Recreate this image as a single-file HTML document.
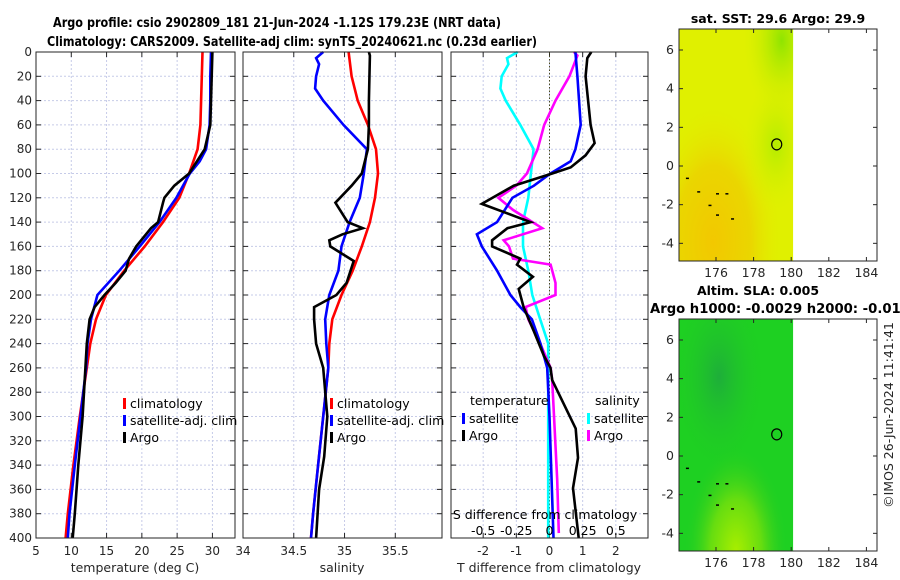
<!DOCTYPE html>
<html><head><meta charset="utf-8">
<style>
html,body{margin:0;padding:0;background:#fff;}
svg{display:block;font-family:"DejaVu Sans","Liberation Sans",sans-serif;}
</style></head>
<body>
<svg id="chart" width="900" height="580" viewBox="0 0 900 580" xmlns="http://www.w3.org/2000/svg">
<defs>
<radialGradient id="sstOrange" cx="0.3" cy="0.92" r="0.6">
<stop offset="0" stop-color="#f2c800"/><stop offset="0.55" stop-color="#ead600"/><stop offset="1" stop-color="#e2ee00" stop-opacity="0"/>
</radialGradient>
<radialGradient id="sstGreen" cx="0.9" cy="0.05" r="0.35">
<stop offset="0" stop-color="#8fe400"/><stop offset="1" stop-color="#ddf000" stop-opacity="0"/>
</radialGradient>
<radialGradient id="sstGreen2" cx="0.85" cy="0.5" r="0.3">
<stop offset="0" stop-color="#b4ec00"/><stop offset="1" stop-color="#ddf000" stop-opacity="0"/>
</radialGradient>
<radialGradient id="slaDark" cx="0.35" cy="0.25" r="0.4">
<stop offset="0" stop-color="#1eae3a"/><stop offset="1" stop-color="#22cc22" stop-opacity="0"/>
</radialGradient>
<radialGradient id="slaLight" cx="0.5" cy="1" r="0.45">
<stop offset="0" stop-color="#a8ee00"/><stop offset="0.5" stop-color="#66dd10"/><stop offset="1" stop-color="#22cc22" stop-opacity="0"/>
</radialGradient>
</defs>
<g id="root"></g>
</svg>
<script>
// ---- data ----
const depthTicks = [0,20,40,60,80,100,120,140,160,180,200,220,240,260,280,300,320,340,360,380,400];
const tempTicks = [5,10,15,20,25,30];
const salTicks = [34,34.5,35,35.5];
const salTickLabels = ["34","34.5","35","35.5"];
const dTTicks = [-2,-1,0,1,2];
const dSTicks = [-0.5,-0.25,0,0.25,0.5];
const dSTickLabels = ["-0.5","-0.25","0","0.25","0.5"];

const tClimDepth = [0,20,40,60,80,100,120,140,160,180,200,220,240,260,300,340,380,400];
const tClim = [28.6,28.5,28.4,28.3,27.9,26.7,25.3,23.0,20.4,17.5,14.9,13.5,12.7,12.2,11.2,10.3,9.5,9.2];
const tSatDepth = [0,20,40,60,80,90,100,120,140,160,180,200,220,240,260,300,340,380,400];
const tSat = [29.8,29.7,29.7,29.6,29.1,28.2,26.8,24.9,22.5,19.7,16.8,13.7,12.8,12.3,12.1,11.3,10.5,9.75,9.5];
const tArgoDepth = [0,20,40,60,80,100,110,120,124,140,145,160,170,180,190,200,210,220,240,260,300,340,380,400];
const tArgo = [30.0,29.9,29.8,29.7,28.9,26.7,24.6,23.2,23.0,22.3,21.3,19.2,18.2,17.7,16.3,14.7,13.3,12.6,12.2,12.0,11.6,11.0,10.5,10.2];

const sClimDepth = [0,20,40,60,80,100,120,140,160,180,200,220,240,260,300,340,380,400];
const sClim = [35.04,35.07,35.13,35.23,35.31,35.33,35.30,35.25,35.17,35.08,34.97,34.88,34.85,34.84,34.79,34.74,34.69,34.67];
const sSatDepth = [0,5,10,20,30,40,60,80,100,120,140,160,180,200,220,240,260,300,340,380,400];
const sSat = [34.79,34.72,34.75,34.72,34.71,34.79,34.99,35.22,35.19,35.15,35.05,34.97,34.94,34.85,34.81,34.82,34.84,34.79,34.74,34.69,34.67];
const sArgoDepth = [0,3,40,60,80,100,110,124,140,145,150,155,160,172,190,200,210,220,240,260,300,333,360,400];
const sArgo = [35.24,35.25,35.24,35.24,35.23,35.17,35.07,34.91,35.03,35.18,34.98,34.85,34.86,35.09,35.02,34.92,34.70,34.70,34.72,34.79,34.83,34.80,34.75,34.72];

const dTSatDepth = [0,20,60,80,90,100,110,120,140,150,160,180,200,210,220,240,260,300,350,400];
const dTSat = [0.78,0.84,0.94,0.78,0.64,0.03,-0.47,-1.12,-1.58,-2.19,-2.04,-1.58,-1.18,-0.88,-0.53,-0.27,-0.07,0.0,0.06,0.12];
const dTArgoDepth = [0,5,20,60,75,85,95,100,110,125,140,145,155,160,170,175,185,195,210,230,250,260,270,310,334,359,400];
const dTArgo = [1.26,1.14,1.09,1.24,1.36,1.09,0.64,0.08,-1.08,-2.04,-0.57,-1.27,-1.73,-1.73,-0.88,-0.98,-0.5,-0.93,-0.78,-0.47,-0.17,0.03,0.08,0.79,0.86,0.71,0.88];
const dSSatDepth = [0,5,10,20,30,40,60,80,100,120,140,160,180,200,220,240,260,330,400];
const dSSat = [-0.24,-0.32,-0.31,-0.36,-0.37,-0.33,-0.22,-0.12,-0.14,-0.16,-0.2,-0.2,-0.16,-0.13,-0.07,-0.01,-0.01,-0.01,-0.01];
const dSArgoDepth = [0,3,20,40,60,80,100,110,120,130,145,155,160,170,175,190,200,210,220,240,260,270,352,396];
const dSArgo = [0.185,0.21,0.15,0.045,-0.04,-0.09,-0.17,-0.25,-0.385,-0.275,-0.055,-0.345,-0.305,-0.275,0.008,0.045,0.045,-0.18,-0.16,-0.07,0.008,0.02,0.058,0.07];

const lonTicks = [176,178,180,182,184];
const latTicks = [-4,-2,0,2,4,6];
const floatLon = 179.23;
const floatLat = 1.12;

// ---- helpers ----
const NS = "http://www.w3.org/2000/svg";
const root = document.getElementById('root');
function mk(tag, attrs, parent){
  const e = document.createElementNS(NS, tag);
  for (const k in attrs) e.setAttribute(k, attrs[k]);
  (parent||root).appendChild(e);
  return e;
}
function txt(s, x, y, opts, parent){
  const e = mk('text', Object.assign({x:x, y:y, 'font-size':12, fill:'#262626'}, opts||{}), parent);
  e.textContent = s;
  return e;
}
const Y0 = 52, Y1 = 538;
const yD = d => Y0 + (Y1 - Y0) * d / 400;

function panel(name, x0, x1, xmin, xmax, xt, xtl, ylabels){
  const g = mk('g', {});
  
  
  const xs = v => x0 + (x1 - x0) * (v - xmin) / (xmax - xmin);
  xt.forEach(v => { mk('line', {x1:xs(v), x2:xs(v), y1:Y0, y2:Y1, stroke:'#c6cbe8', 'stroke-width':1, 'stroke-dasharray':'2,2'}, g); });
  depthTicks.forEach(d => { mk('line', {x1:x0, x2:x1, y1:yD(d), y2:yD(d), stroke:'#c6cbe8', 'stroke-width':1, 'stroke-dasharray':'2,2'}, g); });
  depthTicks.forEach(d => {
    mk('line', {x1:x0, x2:x0+5, y1:yD(d), y2:yD(d), stroke:'#262626'}, g);
    mk('line', {x1:x1-5, x2:x1, y1:yD(d), y2:yD(d), stroke:'#262626'}, g);
    if (ylabels) {
      const t = txt(String(d), x0-4, yD(d)+4, {'text-anchor':'end'}, g);
      
      
    }
  });
  xt.forEach((v,i) => {
    mk('line', {x1:xs(v), x2:xs(v), y1:Y0, y2:Y0+5, stroke:'#262626'}, g);
    mk('line', {x1:xs(v), x2:xs(v), y1:Y1-5, y2:Y1, stroke:'#262626'}, g);
    const t = txt(xtl[i], xs(v), 555, {'text-anchor':'middle'}, g);
    
    
  });
  return {g, xs};
}
function series(p, name, depths, vals, color, scale){
  const pts = depths.map((d,i) => p.xs(vals[i]*(scale||1)).toFixed(1) + ',' + yD(d).toFixed(1)).join(' ');
  const e = mk('polyline', {points:pts, fill:'none', stroke:color, 'stroke-width':2.6, 'stroke-linejoin':'miter'}, p.g);
  
  
}
function frame(p, x0, x1){
  mk('rect', {x:x0, y:Y0, width:x1-x0, height:Y1-Y0, fill:'none', stroke:'#262626', 'stroke-width':1}, p.g);
}
function legendEntry(g, x, y, color, label, name){
  const l = mk('g', {}, g);
  
  
  mk('rect', {x:x, y:y-9, width:3, height:11, fill:color}, l);
  txt(label, x+7, y+1, {'font-size':12.5, fill:'#000'}, l);
}

// ---- titles ----
let t1 = txt('Argo profile: csio 2902809_181 21-Jun-2024 -1.12S 179.23E (NRT data)', 277, 27, {'text-anchor':'middle','font-weight':'bold','font-size':13,fill:'#000',textLength:448,lengthAdjust:'spacingAndGlyphs'});


let t2 = txt('Climatology: CARS2009. Satellite-adj clim: synTS_20240621.nc (0.23d earlier)', 292, 46, {'text-anchor':'middle','font-weight':'bold','font-size':13,fill:'#000',textLength:490,lengthAdjust:'spacingAndGlyphs'});



// ---- panel 1: temperature ----
const p1 = panel('temperature-panel', 36, 235, 5, 33.2, tempTicks, tempTicks.map(String), true);
series(p1, 'temp-climatology-line', tClimDepth, tClim, '#ff0000');
series(p1, 'temp-satellite-line', tSatDepth, tSat, '#0000ff');
series(p1, 'temp-argo-line', tArgoDepth, tArgo, '#000000');
frame(p1, 36, 235);
legendEntry(p1.g, 123, 407, '#ff0000', 'climatology', 'legend-climatology');
legendEntry(p1.g, 123, 424, '#0000ff', 'satellite-adj. clim', 'legend-satellite');
legendEntry(p1.g, 123, 441, '#000000', 'Argo', 'legend-argo');
let xl1 = txt('temperature (deg C)', 135, 572, {'text-anchor':'middle','font-size':12.5});



// ---- panel 2: salinity ----
const p2 = panel('salinity-panel', 243, 442, 34, 35.96, salTicks, salTickLabels, false);
series(p2, 'sal-climatology-line', sClimDepth, sClim, '#ff0000');
series(p2, 'sal-satellite-line', sSatDepth, sSat, '#0000ff');
series(p2, 'sal-argo-line', sArgoDepth, sArgo, '#000000');
frame(p2, 243, 442);
legendEntry(p2.g, 330, 407, '#ff0000', 'climatology', 'legend-climatology');
legendEntry(p2.g, 330, 424, '#0000ff', 'satellite-adj. clim', 'legend-satellite');
legendEntry(p2.g, 330, 441, '#000000', 'Argo', 'legend-argo');
let xl2 = txt('salinity', 342, 572, {'text-anchor':'middle','font-size':12.5});



// ---- panel 3: differences ----
const p3 = panel('difference-panel', 451, 648, -2.97, 2.97, dTTicks, dTTicks.map(String), false);
mk('line', {x1:p3.xs(0), x2:p3.xs(0), y1:Y0, y2:Y1, stroke:'#4a4a20', 'stroke-width':1, 'stroke-dasharray':'1.5,2'}, p3.g);
series(p3, 'sal-diff-satellite-line', dSSatDepth, dSSat, '#00ffff', 4);
series(p3, 'sal-diff-argo-line', dSArgoDepth, dSArgo, '#ff00ff', 4);
series(p3, 'temp-diff-satellite-line', dTSatDepth, dTSat, '#0000ff');
series(p3, 'temp-diff-argo-line', dTArgoDepth, dTArgo, '#000000');
frame(p3, 451, 648);
txt('temperature', 470, 405, {'font-size':12.5, fill:'#000'}, p3.g);
txt('salinity', 595, 405, {'font-size':12.5, fill:'#000'}, p3.g);
legendEntry(p3.g, 462, 422, '#0000ff', 'satellite', 'legend-temp-satellite');
legendEntry(p3.g, 462, 439, '#000000', 'Argo', 'legend-temp-argo');
legendEntry(p3.g, 587, 422, '#00ffff', 'satellite', 'legend-sal-satellite');
legendEntry(p3.g, 587, 439, '#ff00ff', 'Argo', 'legend-sal-argo');
let sl = txt('S difference from climatology', 545, 519, {'text-anchor':'middle','font-size':12.5, fill:'#000'}, p3.g);


dSTicks.forEach((v,i) => {
  const t = txt(dSTickLabels[i], p3.xs(v*4), 535, {'text-anchor':'middle','font-size':12.5, fill:'#000'}, p3.g);
  
  
});
let xl3 = txt('T difference from climatology', 549, 572, {'text-anchor':'middle','font-size':12.5});



// ---- maps ----
function map(name, yTop, yBot, lat6y, lat0y, kind){
  const g = mk('g', {});
  
  
  const mx0 = 679, mx1 = 877;
  const lx = lon => 716 + (lon - 176) * 18.8;
  const ly = lat => lat0y + (lat6y - lat0y) * lat / 6;
  const dx0 = mx0, dx1 = lx(180.1);
  if (kind === 'sst') {
    mk('rect', {x:dx0, y:yTop, width:dx1-dx0, height:yBot-yTop, fill:'#e0f000'}, g);
    mk('rect', {x:dx0, y:yTop, width:dx1-dx0, height:yBot-yTop, fill:'url(#sstOrange)'}, g);
    mk('rect', {x:dx0, y:yTop, width:dx1-dx0, height:yBot-yTop, fill:'url(#sstGreen)'}, g);
    mk('rect', {x:dx0, y:yTop, width:dx1-dx0, height:yBot-yTop, fill:'url(#sstGreen2)'}, g);
  } else {
    mk('rect', {x:dx0, y:yTop, width:dx1-dx0, height:yBot-yTop, fill:'#1ed022'}, g);
    mk('rect', {x:dx0, y:yTop, width:dx1-dx0, height:yBot-yTop, fill:'url(#slaDark)'}, g);
    mk('rect', {x:dx0, y:yTop, width:dx1-dx0, height:yBot-yTop, fill:'url(#slaLight)'}, g);
  }
  [[174.4,-0.6],[175,-1.3],[175.6,-2.0],[176,-1.4],[176.5,-1.4],[176.8,-2.7],[176,-2.5]].forEach(p => {
    mk('rect', {x:lx(p[0]), y:ly(p[1]), width:3, height:1.5, fill:'#000'}, g);
  });
  const c = mk('ellipse', {cx:lx(floatLon), cy:ly(floatLat), rx:5, ry:5.5, fill:'none', stroke:'#000', 'stroke-width':1.2}, g);
  
  
  mk('rect', {x:mx0, y:yTop, width:mx1-mx0, height:yBot-yTop, fill:'none', stroke:'#262626'}, g);
  lonTicks.forEach(l => {
    mk('line', {x1:lx(l), x2:lx(l), y1:yBot, y2:yBot-4, stroke:'#262626'}, g);
    mk('line', {x1:lx(l), x2:lx(l), y1:yTop, y2:yTop+4, stroke:'#262626'}, g);
    const t = txt(String(l), lx(l), yBot+16, {'text-anchor':'middle','font-size':12.5}, g);
    
    
  });
  latTicks.forEach(l => {
    mk('line', {x1:mx0, x2:mx0+4, y1:ly(l), y2:ly(l), stroke:'#262626'}, g);
    mk('line', {x1:mx1-4, x2:mx1, y1:ly(l), y2:ly(l), stroke:'#262626'}, g);
    const t = txt(String(l), 674, ly(l)+4, {'text-anchor':'end','font-size':12.5}, g);
    
    
  });
  return g;
}
map('sst-map', 29, 261, 50, 166, 'sst');
map('sla-map', 319, 551, 340, 456, 'sla');
let mt1 = txt('sat. SST: 29.6 Argo: 29.9', 778, 23, {'text-anchor':'middle','font-weight':'bold','font-size':12.5,fill:'#000'});


let mt2 = txt('Altim. SLA: 0.005', 758, 295, {'text-anchor':'middle','font-weight':'bold','font-size':12.5,fill:'#000'});


let mt3 = txt('Argo h1000: -0.0029 h2000: -0.014', 650, 313, {'font-weight':'bold','font-size':13.2,fill:'#000'});


let cp = txt('©IMOS 26-Jun-2024 11:41:41', 0, 0, {'text-anchor':'middle','font-size':12.5, transform:'translate(893,415) rotate(-90)'});


</script>
</body></html>
